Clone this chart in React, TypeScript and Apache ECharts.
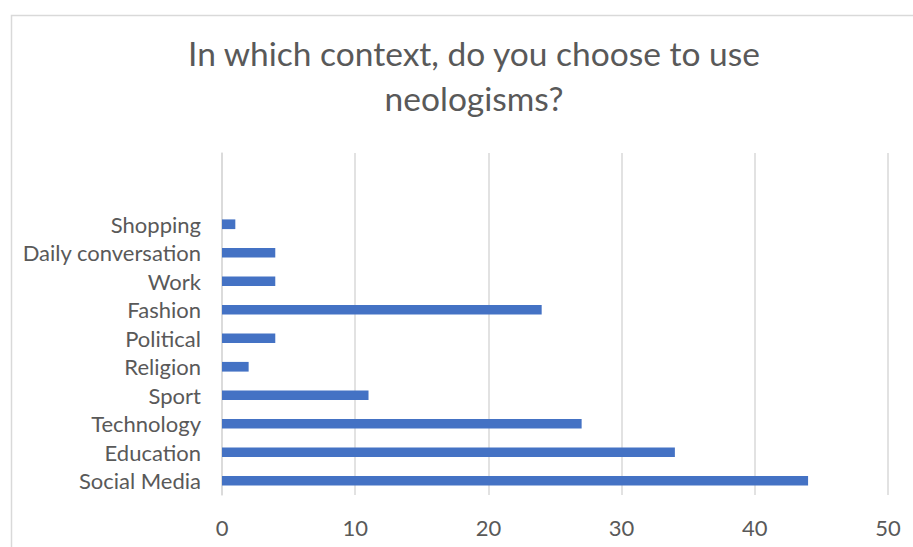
import React, { useEffect, useRef } from "react";
import * as echarts from "echarts";

// Contexts listed bottom-to-top, with two unused slots at the top of the axis
const contexts = [
  "Social Media",
  "Education",
  "Technology",
  "Sport",
  "Religion",
  "Political",
  "Fashion",
  "Work",
  "Daily conversation",
  "Shopping",
  "",
  "",
];
const responses = [44, 34, 27, 11, 2, 4, 24, 4, 4, 1, null, null];
const xTicks = { min: 0, max: 50, interval: 10 };

const FONT = "Lato, 'Noto Sans', sans-serif";
const GREY = "#595959";

export default function App() {
  const ref = useRef<HTMLDivElement>(null);

  useEffect(() => {
    if (!ref.current) return;
    const chart = echarts.init(ref.current, undefined, { renderer: "svg" });
    chart.setOption({
      animation: false,
      backgroundColor: "#ffffff",
      title: {
        text: "In which context, do you choose to use\nneologisms?",
        left: 469,
        top: 25,
        textAlign: "center",
        textStyle: {
          fontFamily: FONT,
          fontSize: 33.5,
          lineHeight: 45,
          fontWeight: "normal",
          color: GREY,
        },
      },
      graphic: [
        {
          type: "rect",
          left: 9,
          top: 13,
          shape: { width: 1000, height: 1000 },
          style: { fill: "none", stroke: "#d9d9d9", lineWidth: 1.5 },
          silent: true,
        },
      ],
      grid: { left: 222, right: 25, top: 153, bottom: 52, containLabel: false },
      xAxis: {
        type: "value",
        min: xTicks.min,
        max: xTicks.max,
        interval: xTicks.interval,
        axisLine: { show: false },
        axisTick: { show: false },
        splitLine: { show: true, lineStyle: { color: "#d9d9d9", width: 1.5 } },
        axisLabel: {
          color: GREY,
          fontFamily: FONT,
          fontSize: 22,
          margin: 21,
        },
      },
      yAxis: {
        type: "category",
        data: contexts,
        axisLine: { show: true, lineStyle: { color: "#d9d9d9", width: 1.5 } },
        axisTick: { show: false },
        axisLabel: {
          color: GREY,
          fontFamily: FONT,
          fontSize: 22,
          margin: 21,
          interval: 0,
        },
      },
      series: [
        {
          type: "bar",
          data: responses,
          barWidth: "34%",
          itemStyle: { color: "#4472C4" },
        },
      ],
    });
    return () => chart.dispose();
  }, []);

  return (
    <div
      ref={ref}
      style={{ position: "fixed", left: 0, top: 0, width: 913, height: 547 }}
    />
  );
}
